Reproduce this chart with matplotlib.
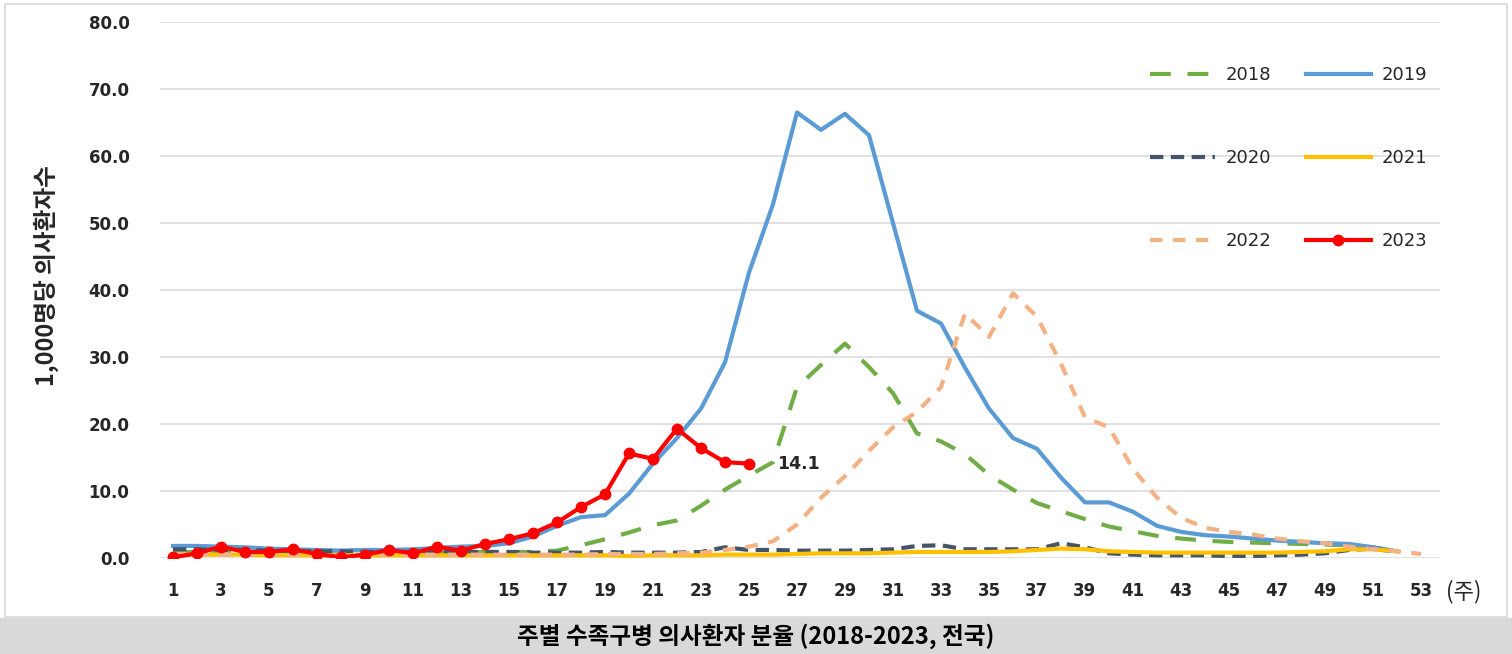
import matplotlib
matplotlib.use("Agg")
import matplotlib.pyplot as plt
from matplotlib.patches import Rectangle

plt.rcParams["font.family"] = ["DejaVu Sans", "Noto Sans CJK KR"]
kr = ["Noto Sans CJK KR", "DejaVu Sans"]

# weekly rates per 1,000 outpatients
weeks = list(range(1, 54))
y2018 = [0.9, 0.9, 0.9, 0.8, 0.8, 0.8, 0.8, 0.7, 0.7, 0.8, 0.8, 0.8, 0.8, 0.9, 0.9, 0.9,
         1.1, 1.9, 2.8, 3.8, 4.9, 5.6, 7.8, 10.2, 12.3, 14.3, 25.5, 28.8, 32.0, 28.5,
         24.6, 18.6, 17.4, 15.5, 12.4, 10.2, 8.2, 7.0, 5.8, 4.7, 4.0, 3.3, 2.9, 2.6,
         2.4, 2.3, 2.2, 2.1, 2.0, 1.9, 1.6, 0.9]
y2019 = [1.8, 1.8, 1.7, 1.6, 1.4, 1.3, 1.2, 1.1, 1.2, 1.2, 1.3, 1.5, 1.7, 1.8, 2.2,
         3.2, 4.8, 6.1, 6.4, 9.6, 14.1, 17.9, 22.3, 29.2, 42.6, 52.8, 66.5, 63.9, 66.3,
         63.1, 50.0, 36.9, 35.0, 28.4, 22.3, 17.9, 16.3, 12.0, 8.3, 8.3, 6.9, 4.8, 3.9,
         3.4, 3.2, 2.9, 2.6, 2.4, 2.2, 2.1, 1.6, 1.0]
y2020 = [1.3, 1.3, 1.2, 1.2, 1.1, 1.0, 1.0, 1.0, 0.9, 0.9, 0.9, 0.9, 0.9,
         0.9, 0.9, 0.8, 0.8, 0.8, 0.9, 0.8, 0.8, 0.8, 0.9,
         1.6, 1.2, 1.2, 1.1, 1.1, 1.1, 1.2, 1.3, 1.8, 1.9, 1.3, 1.3, 1.3, 1.3, 2.2, 1.6,
         0.7, 0.5, 0.4, 0.4, 0.4, 0.3, 0.3, 0.4, 0.5, 0.7, 1.2, 1.4, 0.9]
y2021 = [0.5, 0.5, 0.5, 0.5, 0.4, 0.4, 0.4, 0.4, 0.4, 0.4, 0.4, 0.4, 0.4, 0.4, 0.4,
         0.4, 0.4, 0.4, 0.4, 0.3, 0.4, 0.4, 0.4, 0.5, 0.5, 0.5, 0.6, 0.7, 0.7, 0.7,
         0.8, 0.9, 0.9, 0.9, 0.9, 1.0, 1.2, 1.4, 1.3, 1.0, 0.9, 0.8, 0.8, 0.8, 0.8,
         0.8, 0.8, 0.9, 1.0, 1.3, 1.3, 1.0]
y2022 = [0.6, 0.6, 0.5, 0.5, 0.5, 0.5, 0.5, 0.5, 0.5, 0.5, 0.5, 0.5, 0.5, 0.5, 0.5,
         0.5, 0.5, 0.5, 0.6, 0.6, 0.6, 0.7, 0.8,
         1.2, 1.7, 2.5, 5.0, 9.0, 12.2, 16.0, 19.5, 21.8, 25.5, 36.5, 33.0, 39.5, 36.0,
         29.0, 21.0, 19.5, 13.3, 9.0, 6.0, 4.5, 3.9, 3.5, 2.9, 2.5, 2.2, 1.7, 1.3,
         1.0, 0.6]
y2023 = [0.1, 0.7, 1.7, 0.9, 0.9, 1.3, 0.6, 0.1, 0.5, 1.2, 0.7, 1.7, 1.1, 2.1, 2.8,
         3.7, 5.3, 7.6, 9.5, 15.6, 14.8, 19.3, 16.4, 14.3, 14.1]

W, H = 1512, 654
fig = plt.figure(figsize=(W / 100, H / 100), dpi=100)

# frame and caption band
fig.patches.append(Rectangle((5 / W, 1 - 617 / H), 1502 / W, 613 / H, transform=fig.transFigure,
                             facecolor="white", edgecolor="#d9d9d9", lw=1.2, zorder=-2))
fig.patches.append(Rectangle((0, 0), 1, 36 / H, transform=fig.transFigure,
                             facecolor="#d9d9d9", edgecolor="none", zorder=-2))

ax = fig.add_axes([160 / W, 1 - 558 / H, 1280 / W, 536 / H])
ax.patch.set_alpha(0)

lw = 3
l18, = ax.plot(weeks[:52], y2018, color="#70ad47", lw=lw, dashes=(5, 4), label="2018")
l19, = ax.plot(weeks[:52], y2019, color="#5b9bd5", lw=lw, label="2019")
l20, = ax.plot(weeks[:52], y2020, color="#44546a", lw=lw, dashes=(3.2, 1.8), label="2020")
l21, = ax.plot(weeks[:52], y2021, color="#ffc000", lw=lw, label="2021")
l22, = ax.plot(weeks[:53], y2022, color="#f4b183", lw=lw, dashes=(3, 2.5), label="2022")
l23, = ax.plot(weeks[:25], y2023, color="#ff0000", lw=lw, marker="o", markersize=7.5, label="2023")

ax.annotate("14.1", (weeks[24], y2023[-1]), xytext=(20, 0), textcoords="offset points",
            va="center", ha="left", fontsize=12.5, fontweight="bold", color="#262626")

ax.set_xlim(1 - 13 / 24, 53 + 19 / 24)
ax.set_ylim(0, 80)
ax.set_yticks(range(0, 81, 10))
ax.set_yticklabels([f"{v:.1f}" for v in range(0, 81, 10)])
ax.set_xticks(weeks[::2])
ax.tick_params(length=0, labelsize=12, colors="#262626")
ax.tick_params(axis="y", pad=22)
ax.tick_params(axis="x", pad=17)
for t in ax.get_xticklabels() + ax.get_yticklabels():
    t.set_fontweight("bold")
ax.grid(axis="y", color="#d9d9d9", lw=1.1)
for s in ax.spines.values():
    s.set_visible(False)

fig.text(1464 / W, 1 - 592 / H, "(주)", family=kr, fontsize=16, ha="center", va="center",
         color="#262626")
fig.text(46 / W, 1 - 276 / H, "1,000명당 의사환자수", family=kr, fontsize=17,
         fontweight="bold", rotation=90, ha="center", va="center", color="#262626")
fig.text(0.5, 18 / H, "주별 수족구병 의사환자 분율 (2018-2023, 전국)", family=kr, fontsize=17,
         fontweight="bold", ha="center", va="center", color="black")

ax.legend([l18, l20, l22, l19, l21, l23], ["2018", "2020", "2022", "2019", "2021", "2023"],
          ncol=2, frameon=False, loc="upper left", bbox_to_anchor=(1150 / W, 1 - 66 / H),
          bbox_transform=fig.transFigure, borderpad=0, borderaxespad=0, fontsize=13,
          handlelength=3.6, handletextpad=0.6, columnspacing=1.9, labelspacing=3.6,
          labelcolor="#262626")

fig.savefig("out.png", dpi=100)
